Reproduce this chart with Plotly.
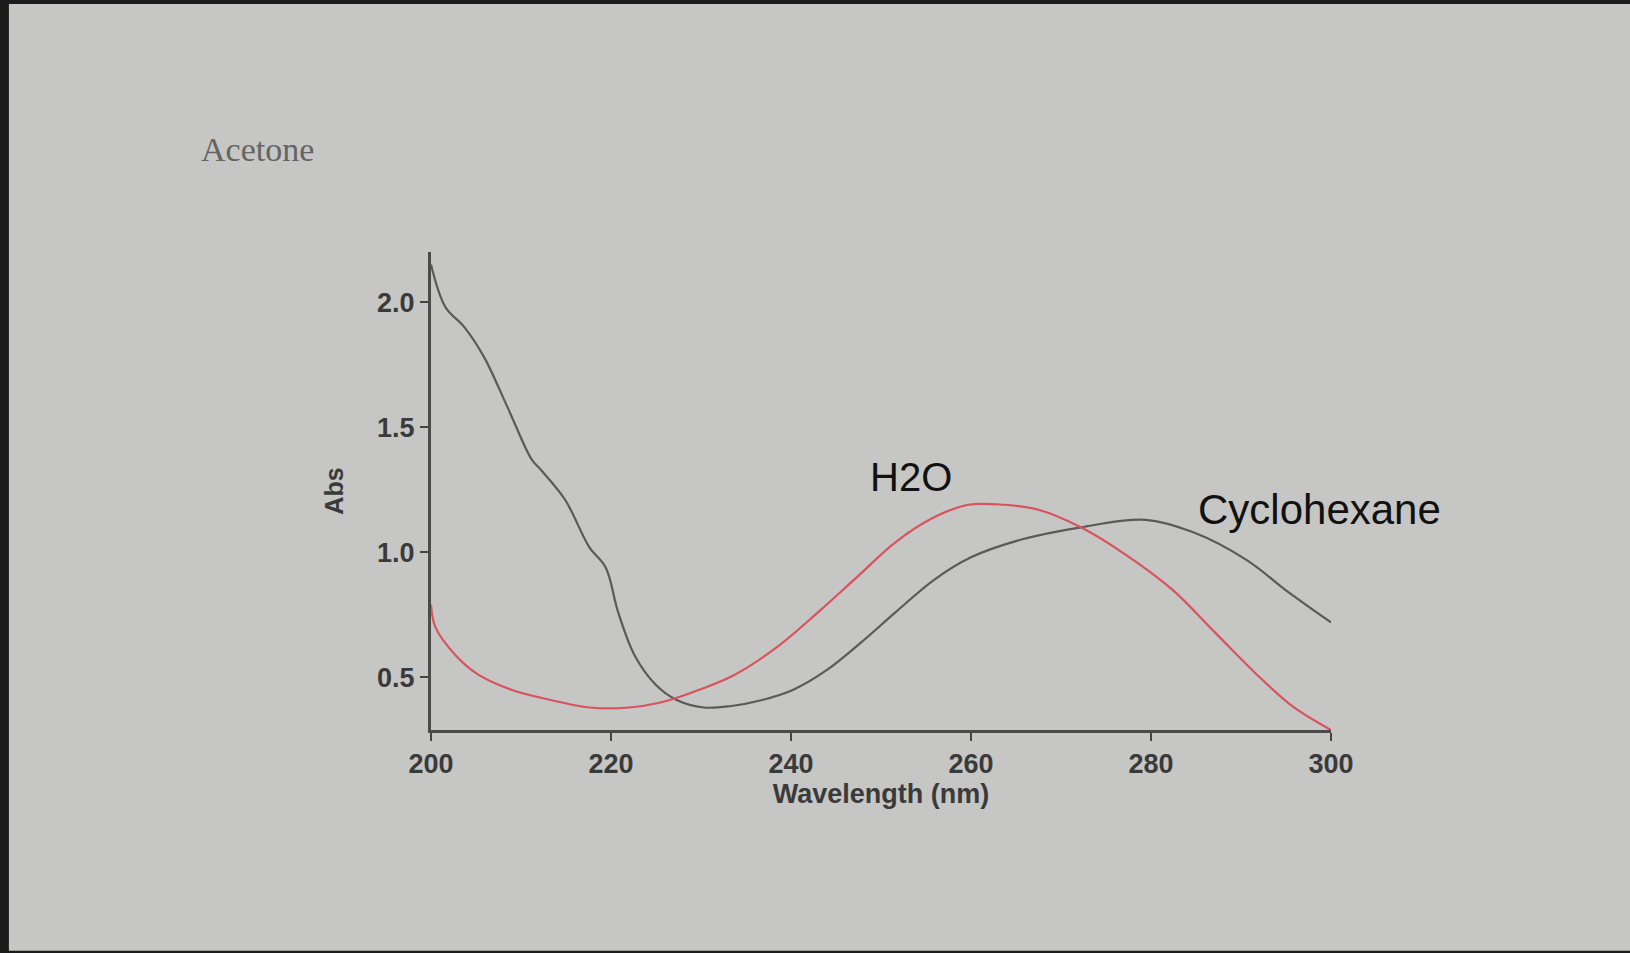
import plotly.graph_objects as go

# Cyclohexane (gray) spectrum
cyc_wl = [200, 201.6, 203.7, 205.9, 208.5, 211.2, 212.2, 214.9, 217.6, 219.4, 220.8, 222.6,
          225.0, 227.3, 230.3, 233.2, 236.8, 240.2, 244.0, 247.8, 251.6, 255.9, 260.0, 265.5,
          272.2, 279.4, 284.7, 290.6, 295.3, 300]
cyc_abs = [2.15, 1.98, 1.90, 1.78, 1.58, 1.37, 1.33, 1.21, 1.02, 0.94, 0.76, 0.59,
           0.47, 0.41, 0.38, 0.385, 0.41, 0.45, 0.53, 0.64, 0.76, 0.89, 0.98, 1.05,
           1.10, 1.13, 1.08, 0.97, 0.84, 0.72]

# H2O (red) spectrum
h2o_wl = [200, 200.5, 202.7, 205.3, 209.0, 213.3, 217.6, 222.0, 225.5, 229.0, 233.7, 238.4,
          243.0, 247.3, 251.6, 255.9, 259.7, 263.6, 267.5, 272.2, 276.8, 282.4, 287.1, 291.8,
          295.9, 300]
h2o_abs = [0.79, 0.70, 0.59, 0.51, 0.45, 0.41, 0.38, 0.38, 0.40, 0.44, 0.51, 0.62,
           0.76, 0.90, 1.04, 1.14, 1.19, 1.19, 1.17, 1.10, 1.00, 0.85, 0.68, 0.51,
           0.38, 0.29]

x_ticks = [200, 220, 240, 260, 280, 300]
y_ticks = [0.5, 1.0, 1.5, 2.0]
y_tick_labels = ["0.5", "1.0", "1.5", "2.0"]

bg = "#c6c6c4"

fig = go.Figure()
fig.add_trace(go.Scatter(x=cyc_wl, y=cyc_abs, mode="lines", name="Cyclohexane",
                         line=dict(color="#5a5a5a", width=2.2, shape="spline", smoothing=1.0)))
fig.add_trace(go.Scatter(x=h2o_wl, y=h2o_abs, mode="lines", name="H2O",
                         line=dict(color="#d8535e", width=2.2, shape="spline", smoothing=1.0)))

fig.update_layout(
    width=1630, height=953,
    margin=dict(l=431, r=299, t=252, b=223),
    paper_bgcolor=bg, plot_bgcolor=bg,
    showlegend=False,
    font=dict(family="Liberation Sans, Arial, sans-serif", color="#333333"),
    xaxis=dict(
        range=[200, 300], tickvals=x_ticks, ticktext=["<b>%d</b>" % t for t in x_ticks],
        ticks="outside", ticklen=8, tickwidth=2,
        tickcolor="#444444", showline=True, linecolor="#4a4a4a", linewidth=3,
        showgrid=False, zeroline=False,
        tickfont=dict(size=27, color="#3a3a3a"),
        title=dict(text="<b>Wavelength (nm)</b>", standoff=0,
                   font=dict(size=27, color="#3a3a3a")),
    ),
    yaxis=dict(
        range=[0.29, 2.2], tickvals=y_ticks, ticktext=["<b>%s</b>" % t for t in y_tick_labels],
        ticks="outside", ticklen=8, tickwidth=2, tickcolor="#444444",
        showline=True, linecolor="#4a4a4a", linewidth=3,
        showgrid=False, zeroline=False,
        tickfont=dict(size=27, color="#3a3a3a"),
        title=dict(text="<b>Abs</b>", standoff=27, font=dict(size=25, color="#3a3a3a")),
    ),
)

fig.add_annotation(text="Acetone", xref="paper", yref="paper", x=-0.193, y=1.215,
                   xanchor="center", yanchor="middle", showarrow=False,
                   font=dict(family="Liberation Serif", size=34, color="#646464"))
fig.add_annotation(text="H2O", x=253.3, y=1.30, xanchor="center", yanchor="middle",
                   showarrow=False, font=dict(family="Liberation Sans", size=40, color="#111111"))
fig.add_annotation(text="Cyclohexane", x=298.7, y=1.17, xanchor="center", yanchor="middle",
                   showarrow=False, font=dict(family="Liberation Sans", size=42, color="#111111"))

# dark photo frame edges
frame = "#1c1c1c"
fig.add_shape(type="rect", xref="paper", yref="paper", x0=-0.48, x1=-0.469, y0=-0.6, y1=1.7,
              line=dict(width=0), fillcolor=frame, layer="above")
fig.add_shape(type="rect", xref="paper", yref="paper", x0=-0.48, x1=1.5, y0=1.519, y1=1.7,
              line=dict(width=0), fillcolor=frame, layer="above")
fig.add_shape(type="rect", xref="paper", yref="paper", x0=-0.48, x1=1.5, y0=-0.6, y1=-0.462,
              line=dict(width=0), fillcolor=frame, layer="above")

fig.write_html("out.html")
